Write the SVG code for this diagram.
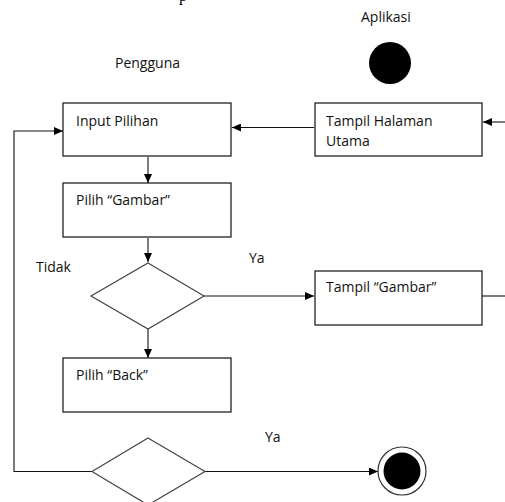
<svg xmlns="http://www.w3.org/2000/svg" width="505" height="502" viewBox="0 0 505 502">
  <defs>
    <marker id="arrow" markerWidth="9" markerHeight="8" refX="9" refY="4" orient="auto" markerUnits="userSpaceOnUse">
      <path d="M0,0 L9,4 L0,8 Z" fill="#000"/>
    </marker>
    <style>
      .box { fill: #fff; stroke: #222; stroke-width: 1.3; }
      .dec { fill: #fff; stroke: #444; stroke-width: 1.2; }
      .lbl { font-family: "Open Sans", "DejaVu Sans", sans-serif; font-size: 14px; fill: #111; }
      .edge { fill: none; stroke: #111; stroke-width: 1.1; }
    </style>
  </defs>
  <rect width="505" height="502" fill="#fff"/>

  <!-- descender of a heading above the frame -->
  <text x="179" y="0.5" font-family="'Liberation Serif', serif" font-size="16" fill="#000">p</text>

  <!-- swimlane titles -->
  <text class="lbl" x="115" y="68">Pengguna</text>
  <text class="lbl" x="361" y="22">Aplikasi</text>

  <!-- connectors -->
  <g id="connectors">
    <line class="edge" x1="505" y1="122" x2="483" y2="122" marker-end="url(#arrow)"/>
    <line class="edge" x1="314" y1="127.5" x2="232" y2="127.5" marker-end="url(#arrow)"/>
    <line class="edge" x1="148" y1="157" x2="148" y2="183" marker-end="url(#arrow)"/>
    <line class="edge" x1="148" y1="238" x2="148" y2="262" marker-end="url(#arrow)"/>
    <line class="edge" x1="204" y1="296" x2="314" y2="296" marker-end="url(#arrow)"/>
    <line class="edge" x1="482" y1="296" x2="505" y2="296"/>
    <line class="edge" x1="148" y1="329" x2="148" y2="358" marker-end="url(#arrow)"/>
    <polyline class="edge" points="92,471.5 14,471.5 14,131 63,131" marker-end="url(#arrow)"/>
    <line class="edge" x1="205" y1="471.5" x2="378" y2="471.5" marker-end="url(#arrow)"/>
    <text class="lbl" x="249" y="263">Ya</text>
    <text class="lbl" x="36" y="272">Tidak</text>
    <text class="lbl" x="265" y="442">Ya</text>
  </g>

  <!-- start node -->
  <g id="start">
    <circle cx="390" cy="63" r="21" fill="#000"/>
  </g>

  <g id="input-pilihan">
    <rect class="box" x="63" y="103" width="168" height="53"/>
    <text class="lbl" x="76" y="126">Input Pilihan</text>
  </g>

  <g id="tampil-halaman-utama">
    <rect class="box" x="315" y="103" width="167" height="53"/>
    <text class="lbl" x="326" y="126">Tampil Halaman</text>
    <text class="lbl" x="326" y="146">Utama</text>
  </g>

  <g id="pilih-gambar">
    <rect class="box" x="63" y="183" width="168" height="54"/>
    <text class="lbl" x="76" y="205">Pilih “Gambar”</text>
  </g>

  <g id="decision-gambar">
    <polygon class="dec" points="148,263 204,296 148,329 91,296"/>
  </g>

  <g id="tampil-gambar">
    <rect class="box" x="315" y="271" width="167" height="54"/>
    <text class="lbl" x="326" y="292">Tampil “Gambar”</text>
  </g>

  <g id="pilih-back">
    <rect class="box" x="63" y="358" width="168" height="54"/>
    <text class="lbl" x="76" y="380">Pilih “Back”</text>
  </g>

  <g id="decision-back">
    <polygon class="dec" points="148,438 205,471.5 148,505 92,471.5"/>
  </g>

  <!-- end node -->
  <g id="end">
    <circle cx="402" cy="471" r="24" fill="#fff" stroke="#333" stroke-width="1.2"/>
    <circle cx="402" cy="471" r="18.5" fill="#000"/>
  </g>
</svg>
